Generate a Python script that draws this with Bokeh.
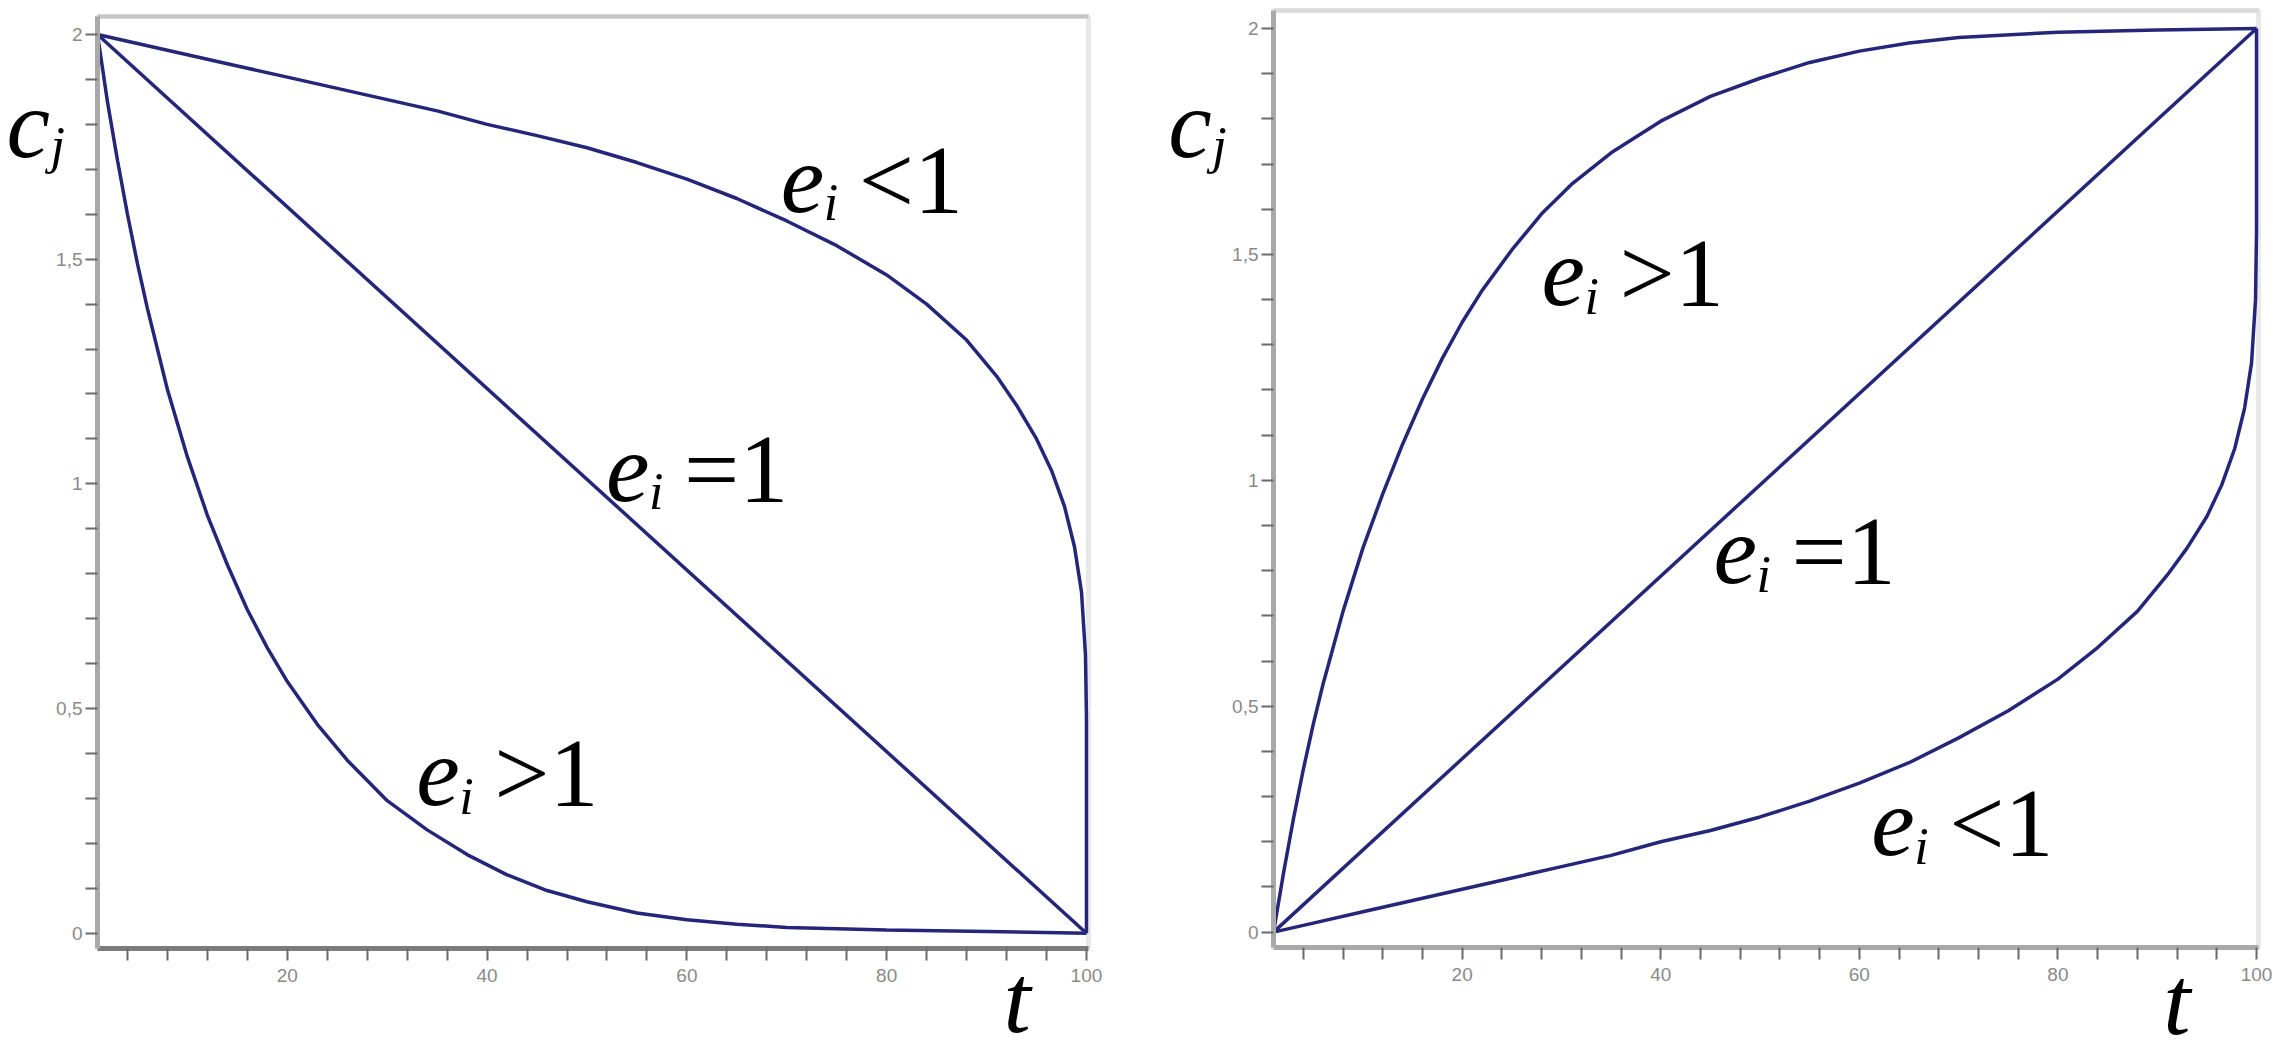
from bokeh.plotting import figure
from bokeh.models import Range1d, FixedTicker, Label, BoxAnnotation, LinearAxis
from bokeh.layouts import row
from bokeh.embed import file_html
from bokeh.resources import INLINE

# ---------------- data ----------------
# left panel: c_j decreasing from 2 to 0
t_left_lt1 = [1, 5, 10, 15, 20, 25, 30, 35, 40, 45, 50, 55, 60, 65, 70, 75, 80, 84, 88, 91, 93, 95, 96.5, 97.8, 98.8, 99.5, 99.9, 100, 100]
c_left_lt1 = [2.0, 1.98, 1.955, 1.93, 1.905, 1.88, 1.855, 1.83, 1.8, 1.775, 1.748, 1.715, 1.678, 1.635, 1.585, 1.53, 1.465, 1.4, 1.32, 1.24, 1.175, 1.1, 1.03, 0.95, 0.86, 0.76, 0.62, 0.48, 0.0]

t_left_eq1 = [1, 100]
c_left_eq1 = [2.0, 0.0]

t_left_gt1 = [1, 2, 3, 4, 5, 6, 8, 10, 12, 14, 16, 18, 20, 23, 26, 30, 34, 38, 42, 46, 50, 55, 60, 65, 70, 80, 90, 100]
c_left_gt1 = [2.0, 1.85, 1.72, 1.6, 1.49, 1.39, 1.21, 1.06, 0.93, 0.82, 0.72, 0.635, 0.56, 0.465, 0.385, 0.295, 0.23, 0.175, 0.13, 0.095, 0.07, 0.045, 0.03, 0.02, 0.013, 0.007, 0.004, 0.0]

# right panel: c_j increasing from 0 to 2
t_right_gt1 = [1, 2, 3, 4, 5, 6, 8, 10, 12, 14, 16, 18, 20, 22, 25, 28, 31, 35, 40, 45, 50, 55, 60, 65, 70, 80, 90, 100]
c_right_gt1 = [0.0, 0.13, 0.25, 0.36, 0.46, 0.55, 0.71, 0.85, 0.97, 1.08, 1.18, 1.27, 1.35, 1.42, 1.51, 1.59, 1.655, 1.725, 1.795, 1.85, 1.89, 1.925, 1.95, 1.968, 1.98, 1.992, 1.997, 2.0]

t_right_eq1 = [1, 100]
c_right_eq1 = [0.0, 2.0]

t_right_lt1 = [1, 5, 10, 15, 20, 25, 30, 35, 40, 45, 50, 55, 60, 65, 70, 75, 80, 84, 88, 91, 93, 95, 96.5, 97.8, 98.8, 99.5, 99.9, 100, 100]
c_right_lt1 = [0.0, 0.02, 0.045, 0.07, 0.095, 0.12, 0.145, 0.17, 0.2, 0.225, 0.255, 0.29, 0.33, 0.375, 0.43, 0.49, 0.56, 0.63, 0.71, 0.79, 0.85, 0.92, 0.99, 1.07, 1.16, 1.26, 1.4, 1.55, 2.0]

# axis ticks
x_major = [20, 40, 60, 80, 100]
x_minor = [4, 8, 12, 16, 24, 28, 32, 36, 44, 48, 52, 56, 64, 68, 72, 76, 84, 88, 92, 96]
y_major = [0, 0.5, 1, 1.5, 2]
y_major_labels = ["0", "0,5", "1", "1,5", "2"]
y_minor = [0.1, 0.2, 0.3, 0.4, 0.6, 0.7, 0.8, 0.9, 1.1, 1.2, 1.3, 1.4, 1.6, 1.7, 1.8, 1.9]

# plot box (data limits of each panel)
T_MIN, T_MAX = 1, 100.2
C_MIN, C_MAX = -0.034, 2.04

# ---------------- styling ----------------
CURVE = "#25257a"
SERIF = "Liberation Serif"
BIG = 98
SMALL = 52
K_BASE = 0.4     # baseline correction, fraction of font size
PXU = 450.0      # pixels per c-unit


def make_panel(width, xr, yr, xaxis_color, yaxis_color, top_color):
    p = figure(width=width, height=1061, output_backend="svg", toolbar_location=None,
               x_range=Range1d(*xr), y_range=Range1d(*yr),
               x_axis_location=None, y_axis_location=None,
               min_border_left=0, min_border_right=0,
               min_border_top=0, min_border_bottom=0)
    p.grid.visible = False
    p.background_fill_color = "white"
    p.border_fill_color = "white"
    p.outline_line_color = None

    p.add_layout(BoxAnnotation(left=T_MIN, right=T_MAX, bottom=C_MIN, top=C_MAX,
                               fill_alpha=0, line_color="#b3b3b3", line_width=5,
                               level="underlay"))
    p.add_layout(BoxAnnotation(left=T_MIN, right=T_MAX, bottom=C_MAX, top=C_MAX,
                               fill_alpha=0, line_color=top_color, line_width=4,
                               level="underlay"))

    xa = LinearAxis(fixed_location=C_MIN, bounds=(T_MIN, T_MAX))
    ya = LinearAxis(fixed_location=T_MIN, bounds=(C_MIN, C_MAX))
    p.add_layout(xa, "below")
    p.add_layout(ya, "left")
    for ax, ticks, minor, col in ((xa, x_major, x_minor, xaxis_color),
                                  (ya, y_major, y_minor, yaxis_color)):
        ax.ticker = FixedTicker(ticks=ticks, minor_ticks=minor)
        ax.axis_line_color = col
        ax.axis_line_width = 5
        ax.major_tick_line_color = "#6a6a6a"
        ax.minor_tick_line_color = "#6a6a6a"
        ax.major_tick_line_width = 2
        ax.minor_tick_line_width = 2
        ax.major_tick_out = 12
        ax.major_tick_in = 0
        ax.minor_tick_out = 12
        ax.minor_tick_in = 0
        ax.major_label_text_color = "#8a8a8a"
        ax.major_label_text_font = "Liberation Sans"
        ax.major_label_text_font_size = "19px"
    xa.major_label_standoff = 8
    ya.major_label_standoff = 3
    ya.major_label_overrides = {v: s for v, s in zip(y_major, y_major_labels)}
    return p


def lab(p, x, y, text, dx=0, dy=0, size=BIG, italic=True):
    yy = y + (K_BASE * size + dy) / PXU
    p.add_layout(Label(x=x, y=yy, x_offset=dx, text=text,
                       text_font=SERIF, text_font_style="italic" if italic else "normal",
                       text_font_size=f"{size}px", text_color="black",
                       text_baseline="alphabetic", text_align="left"))


def e_label(p, x, y, rel):
    lab(p, x, y, "e")
    lab(p, x, y, "i", dx=43, dy=-5, size=SMALL)
    lab(p, x, y, rel + "1", dx=78, italic=False)


def c_label(p, x, y):
    lab(p, x, y, "c")
    lab(p, x, y, "j", dx=44, dy=-3, size=SMALL)


# ---------------- left panel ----------------
p1 = make_panel(1150, (-8.71, 106.41), (-0.2854, 2.0756), "#7c7c7c", "#a9a9a9", "#747474")
for t, c in ((t_left_lt1, c_left_lt1), (t_left_eq1, c_left_eq1), (t_left_gt1, c_left_gt1)):
    p1.line(t, c, line_color=CURVE, line_width=3.5)
c_label(p1, -8.1, 1.713)
e_label(p1, 69.4, 1.59, "<")
e_label(p1, 51.9, 0.947, "=")
e_label(p1, 32.9, 0.269, ">")
lab(p1, 91.7, -0.234, "t")

# ---------------- right panel ----------------
p2 = make_panel(1136, (-11.39, 103.02), (-0.2863, 2.0621), "#a9a9a9", "#a9a9a9", "#b8b8b8")
for t, c in ((t_right_gt1, c_right_gt1), (t_right_eq1, c_right_eq1), (t_right_lt1, c_right_lt1)):
    p2.line(t, c, line_color=CURVE, line_width=3.5)
c_label(p2, -9.6, 1.701)
e_label(p2, 28.0, 1.371, ">")
e_label(p2, 45.3, 0.756, "=")
e_label(p2, 61.2, 0.154, "<")
lab(p2, 90.6, -0.240, "t")

layout = row(p1, p2)
open("out.html", "w").write(file_html(layout, INLINE))
